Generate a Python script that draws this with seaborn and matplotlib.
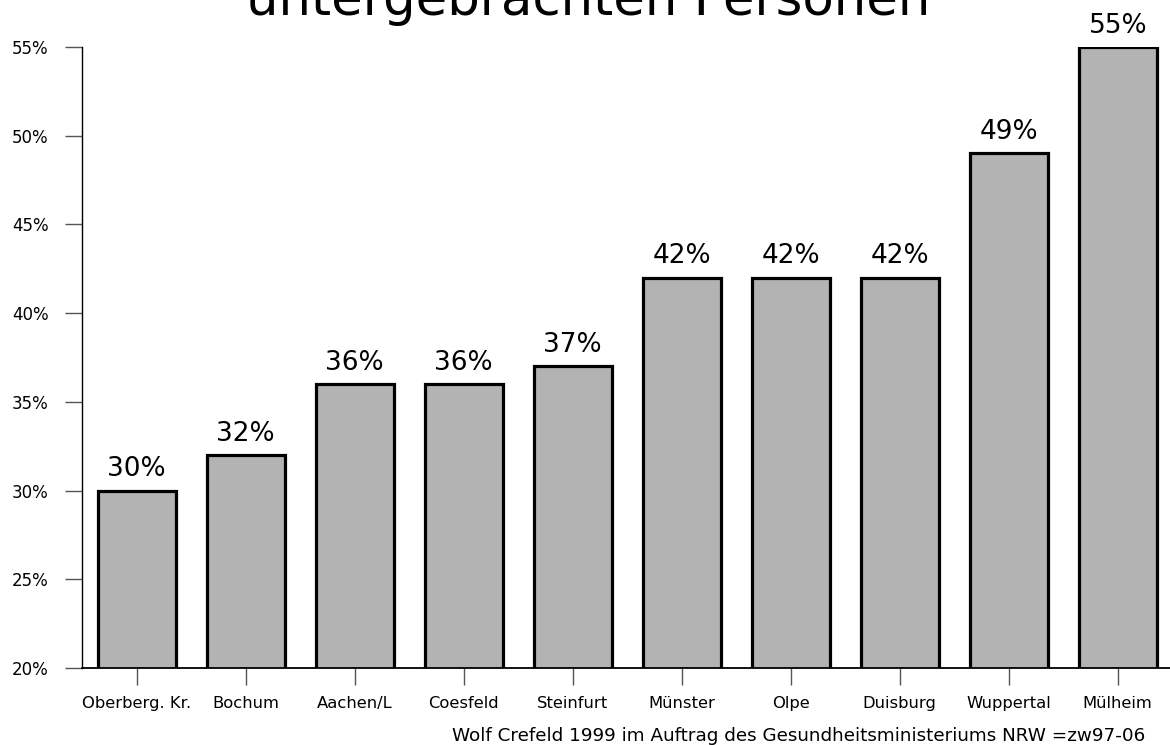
import numpy as np
import pandas as pd
import matplotlib
matplotlib.use("Agg")
import matplotlib.pyplot as plt
import seaborn as sns

# data
kreise = ["Oberberg. Kr.", "Bochum", "Aachen/L", "Coesfeld", "Steinfurt",
          "Münster", "Olpe", "Duisburg", "Wuppertal", "Mülheim"]
anteil = [30, 32, 36, 36, 37, 42, 42, 42, 49, 55]
y_ticks = [20, 25, 30, 35, 40, 45, 50, 55]
titel = "untergebrachten Personen"
quelle = "Wolf Crefeld 1999 im Auftrag des Gesundheitsministeriums NRW =zw97-06"

df = pd.DataFrame({"Kreis": kreise, "Anteil": anteil})

sns.set_style("white")
plt.rcParams['font.family'] = ['DejaVu Sans']
plt.rcParams['text.color'] = 'black'
plt.rcParams['xtick.labelcolor'] = 'black'
plt.rcParams['ytick.labelcolor'] = 'black'

fig = plt.figure(figsize=(11.7, 7.45), dpi=100)
ax = fig.add_axes([0.0701, 0.1034, 0.93, 0.8335])

sns.barplot(data=df, x="Kreis", y="Anteil", color="#b3b3b3", saturation=1,
            edgecolor="black", linewidth=2.3, width=0.715, ax=ax)

ax.set_ylim(20, 55)
ax.set_xlim(-0.5, 9.48)
ax.set_yticks(y_ticks)
ax.set_yticklabels([f"{t}%" for t in y_ticks], fontsize=12)
ax.set_xticks(range(len(kreise)))
ax.set_xticklabels(kreise, fontsize=11.8)
ax.set_xlabel("")
ax.set_ylabel("")

ax.tick_params(axis="y", direction="out", length=12, width=1, color="#555555",
               pad=12, left=True, labelcolor="black")
ax.tick_params(axis="x", direction="out", length=12, width=1, color="#555555",
               pad=8, bottom=True, labelcolor="black")

for s in ["top", "right"]:
    ax.spines[s].set_visible(False)
ax.spines["left"].set_color("black")
ax.spines["left"].set_linewidth(1.0)
ax.spines["bottom"].set_color("black")
ax.spines["bottom"].set_linewidth(1.3)

for cont in ax.containers:
    lbls = ax.bar_label(cont, labels=[f"{v}%" for v in anteil], padding=6,
                        fontsize=19, color="black")
    for t in lbls:
        t.set_clip_on(False)

fig.text(0.503, 1 - 15 / 745, titel, ha="center", va="baseline", fontsize=37,
         color="black")
fig.text(1145 / 1170, 1 - 736 / 745, quelle, ha="right", va="center",
         fontsize=13.2, color="black")

fig.savefig("out.png", dpi=100)
